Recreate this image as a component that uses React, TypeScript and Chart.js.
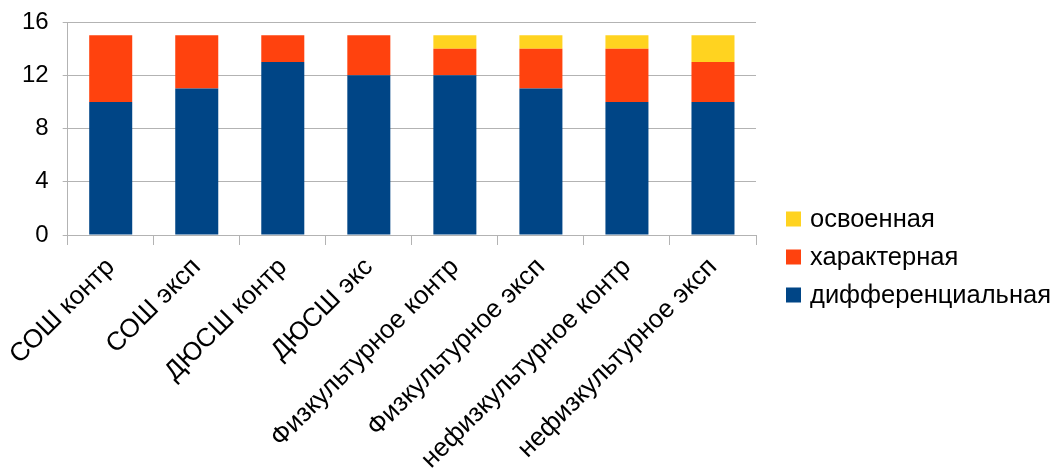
import React, { useEffect, useRef } from "react";
import { Chart, registerables } from "chart.js";

Chart.register(...registerables);

const categories = [
  "СОШ контр",
  "СОШ эксп",
  "ДЮСШ контр",
  "ДЮСШ экс",
  "Физкультурное контр",
  "Физкультурное эксп",
  "нефизкультурное контр",
  "нефизкультурное эксп",
];
const differential = [10, 11, 13, 12, 12, 11, 10, 10];
const characteristic = [5, 4, 2, 3, 2, 3, 4, 3];
const mastered = [0, 0, 0, 0, 1, 1, 1, 2];
const seriesNames = ["дифференциальная", "характерная", "освоенная"];
const seriesColors = ["#004586", "#ff420e", "#ffd320"];
const yTickLabels = [0, 4, 8, 12, 16];

const FONT = "'Liberation Sans', Arial, sans-serif";
const GRID = "#b3b3b3";
const LEGEND_WIDTH = 299;
const LEGEND_FONT = 25.5;
const LEGEND_BOX = 15;
const LEGEND_ROW = 38;

export default function App() {
  const ref = useRef<HTMLCanvasElement | null>(null);
  useEffect(() => {
    if (!ref.current) return;
    const sideLegend = {
      id: "sideLegend",
      afterDraw(chart: any) {
        const { ctx, chartArea, height } = chart;
        const items = chart.data.datasets
          .map((d: any) => ({ label: d.label, color: d.backgroundColor }))
          .reverse();
        const x = chartArea.right + 30;
        const cy = height / 2 + 22;
        const y0 = cy - ((items.length - 1) * LEGEND_ROW) / 2;
        ctx.save();
        ctx.font = `${LEGEND_FONT}px ${FONT}`;
        ctx.textBaseline = "middle";
        ctx.textAlign = "left";
        items.forEach((it: any, i: number) => {
          const y = y0 + i * LEGEND_ROW;
          ctx.fillStyle = it.color;
          ctx.fillRect(x, y - LEGEND_BOX / 2, LEGEND_BOX, LEGEND_BOX);
          ctx.fillStyle = "#000";
          ctx.fillText(it.label, x + LEGEND_BOX + 9, y + 1);
        });
        ctx.restore();
      },
    };
    const chart = new Chart(ref.current, {
      type: "bar",
      data: {
        labels: categories,
        datasets: [
          { label: seriesNames[0], data: differential, backgroundColor: seriesColors[0] },
          { label: seriesNames[1], data: characteristic, backgroundColor: seriesColors[1] },
          { label: seriesNames[2], data: mastered, backgroundColor: seriesColors[2] },
        ],
      },
      options: {
        animation: false,
        responsive: false,
        maintainAspectRatio: false,
        layout: { padding: { top: 0, right: LEGEND_WIDTH, left: 8, bottom: 0 } },
        datasets: { bar: { barPercentage: 0.5, categoryPercentage: 1 } },
        plugins: {
          tooltip: { enabled: false },
          legend: { display: false },
        },
        scales: {
          x: {
            stacked: true,
            grid: {
              offset: true,
              drawOnChartArea: true,
              color: (ctx: any) =>
                ctx.index === categories.length ? GRID : "rgba(0,0,0,0)",
              tickColor: GRID,
              tickLength: 10,
            },
            border: { color: GRID },
            ticks: {
              minRotation: 45,
              maxRotation: 45,
              autoSkip: false,
              color: "#000",
              padding: 7,
              font: { family: FONT, size: 26 },
            },
          },
          y: {
            stacked: true,
            min: 0,
            max: 16,
            afterFit: (scale: any) => {
              scale.paddingTop = 22;
            },
            grid: { color: GRID, tickColor: GRID, tickLength: 5 },
            border: { color: GRID },
            ticks: {
              stepSize: 2,
              color: "#000",
              padding: 14,
              font: { family: FONT, size: 24 },
              callback: (v: any) => (yTickLabels.includes(Number(v)) ? String(v) : ""),
            },
          },
        },
      },
      plugins: [sideLegend],
    });
    return () => chart.destroy();
  }, []);
  return (
    <div style={{ position: "fixed", left: 0, top: 0, width: 1055, height: 470, background: "#fff" }}>
      <canvas ref={ref} width={1055} height={470} />
    </div>
  );
}
